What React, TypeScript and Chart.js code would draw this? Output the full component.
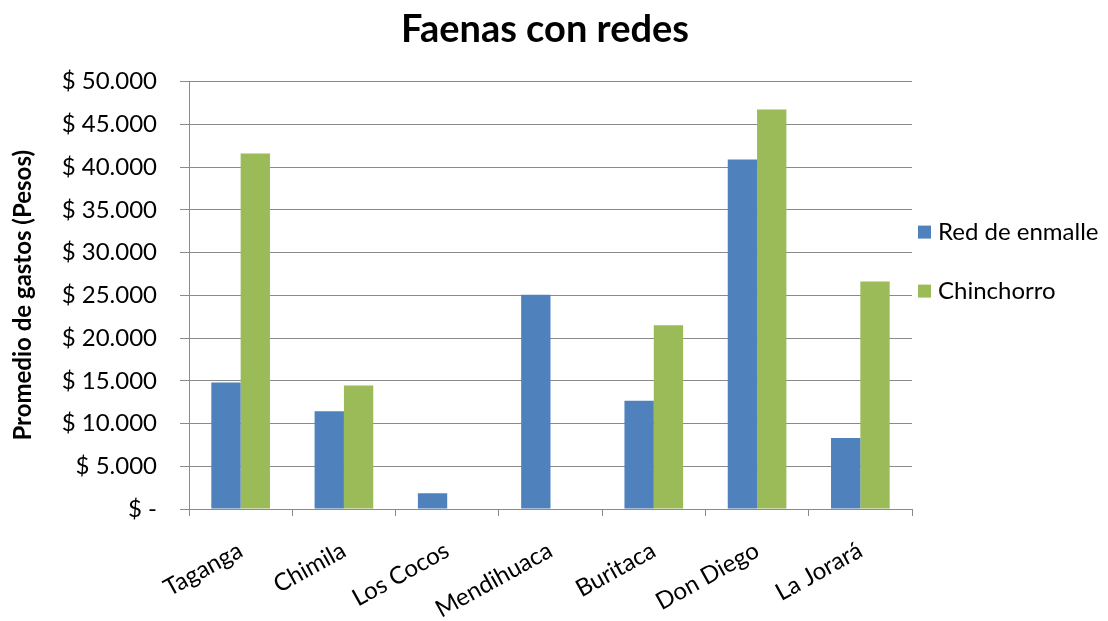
import React, { useEffect, useRef } from "react";
import { Chart, registerables } from "chart.js";

Chart.register(...registerables);

const chartTitle = "Faenas con redes";
const yAxisTitle = "Promedio de gastos (Pesos)";
const categories = ["Taganga", "Chimila", "Los Cocos", "Mendihuaca", "Buritaca", "Don Diego", "La Jorará"];
const seriesNames = ["Red de enmalle", "Chinchorro"];
const redDeEnmalle = [14800, 11450, 1850, 25050, 12650, 40900, 8300];
const chinchorro: (number | null)[] = [41600, 14450, null, null, 21500, 46750, 26600];
const seriesColors = ["#4F81BD", "#9BBB59"];
const yMax = 50000;
const yStep = 5000;

const FONT = "Lato, 'Open Sans', sans-serif";
const GRID = "#8a8a8a";

function formatPesos(v: number): string {
  if (v === 0) return "$ -";
  return "$ " + String(v).replace(/\B(?=(\d{3})+(?!\d))/g, ".");
}

const sideLegend = {
  id: "sideLegend",
  afterDraw(chart: any) {
    const ctx = chart.ctx;
    const area = chart.chartArea;
    ctx.save();
    ctx.font = `24px ${FONT}`;
    ctx.textBaseline = "middle";
    ctx.textAlign = "left";
    chart.data.datasets.forEach((ds: any, i: number) => {
      const y = area.top + 151 + i * 59;
      const x = area.right + 6;
      ctx.fillStyle = ds.backgroundColor;
      ctx.fillRect(x, y - 7, 13, 13);
      ctx.fillStyle = "#000";
      ctx.fillText(ds.label, x + 20, y);
    });
    ctx.restore();
  },
};

export default function App() {
  const ref = useRef<HTMLCanvasElement | null>(null);
  useEffect(() => {
    if (!ref.current) return;
    const chart = new Chart(ref.current, {
      type: "bar",
      data: {
        labels: categories,
        datasets: [
          { label: seriesNames[0], data: redDeEnmalle, backgroundColor: seriesColors[0], borderWidth: 0 },
          { label: seriesNames[1], data: chinchorro, backgroundColor: seriesColors[1], borderWidth: 0 },
        ],
      },
      options: {
        responsive: false,
        animation: false,
        layout: { padding: { left: 0, right: 18, top: 0, bottom: 0 } },
        datasets: { bar: { categoryPercentage: 0.568, barPercentage: 1.0 } },
        plugins: {
          legend: { display: false },
          tooltip: { enabled: false },
          title: {
            display: true,
            text: chartTitle,
            color: "#000",
            font: { family: FONT, size: 38, weight: "bold" },
            padding: { top: 7, bottom: 29 },
          },
        },
        scales: {
          x: {
            offset: true,
            grid: { offset: true, drawOnChartArea: false, drawTicks: true, tickLength: 7, color: GRID },
            border: { display: true, color: GRID, width: 1 },
            ticks: {
              color: "#000",
              font: { family: FONT, size: 24 },
              maxRotation: 29,
              minRotation: 29,
              padding: 20,
              autoSkip: false,
            },
            afterFit: (s: any) => { s.height = 112; },
          },
          y: {
            min: 0,
            max: yMax,
            grid: { color: GRID, tickLength: 9, drawTicks: true },
            border: { display: true, color: GRID, width: 1 },
            ticks: {
              stepSize: yStep,
              color: "#000",
              font: { family: FONT, size: 24 },
              padding: 23,
              callback: (v: any) => formatPesos(Number(v)),
            },
            title: {
              display: true,
              text: yAxisTitle,
              color: "#000",
              font: { family: FONT, size: 24, weight: "bold" },
              padding: { top: 9, bottom: 0 },
            },
            afterFit: (s: any) => { s.width = 189; },
          },
          legendSpace: {
            type: "linear",
            position: "right",
            display: true,
            grid: { display: false, drawTicks: false },
            border: { display: false },
            ticks: { display: false },
            afterFit: (s: any) => { s.width = 178; },
          },
        },
      },
      plugins: [sideLegend],
    });
    return () => chart.destroy();
  }, []);
  return (
    <div style={{ position: "absolute", left: 0, top: 0, width: 1108, height: 621, background: "#fff" }}>
      <canvas ref={ref} width={1108} height={621} />
    </div>
  );
}
